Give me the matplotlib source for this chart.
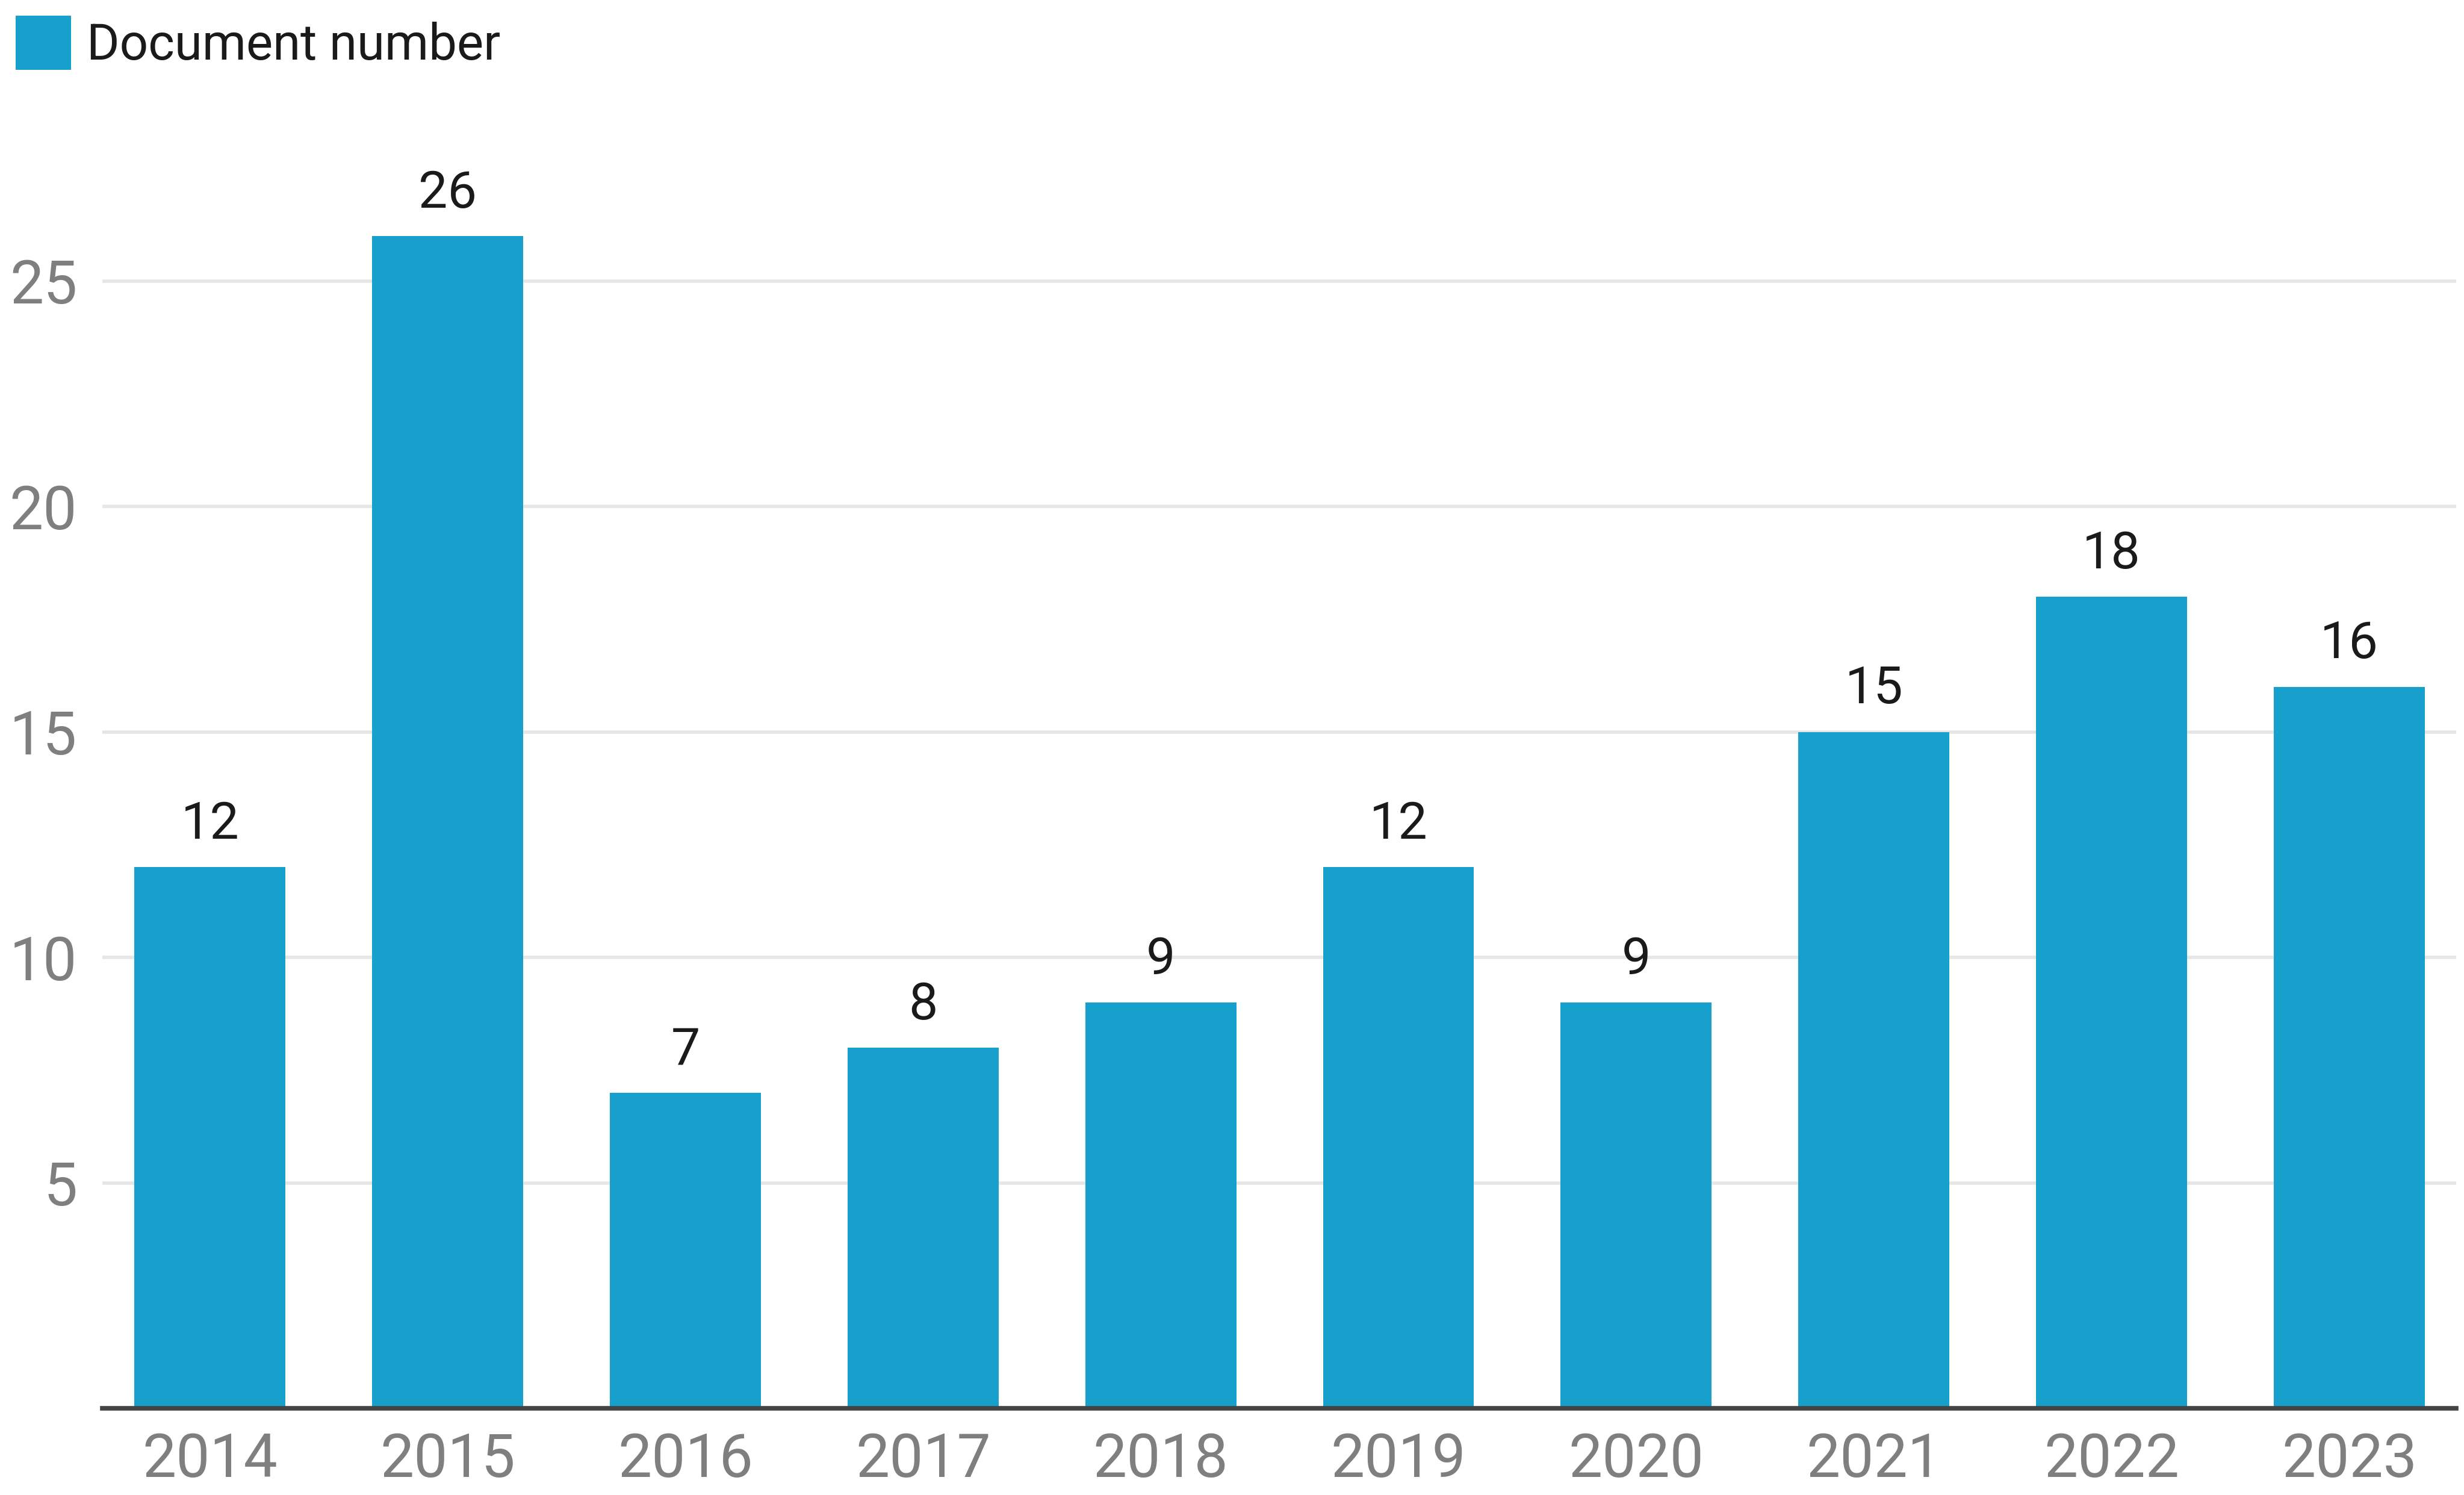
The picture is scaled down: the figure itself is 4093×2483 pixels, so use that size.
#!/usr/bin/env python3
"""Bar chart: document number per year."""

import matplotlib
matplotlib.use("Agg")
import matplotlib.pyplot as plt
from matplotlib.patches import Patch

years = ["2014", "2015", "2016", "2017", "2018", "2019", "2020", "2021", "2022", "2023"]
doc_counts = [12, 26, 7, 8, 9, 12, 9, 15, 18, 16]
y_ticks = [5, 10, 15, 20, 25]
series_name = "Document number"

BAR_COLOR = "#17a0cc"

plt.rcParams["font.family"] = ["Roboto", "DejaVu Sans"]

W, H, DPI = 4093, 2483, 100
fig = plt.figure(figsize=(W / DPI, H / DPI), dpi=DPI)

# axes placed in pixel terms: left 170, right 4080, baseline 2339, top 242
ax = fig.add_axes([170 / W, (H - 2339) / H, (4080 - 170) / W, (2339 - 242) / H])

x = range(len(years))
bars = ax.bar(x, doc_counts, width=0.635, color=BAR_COLOR, zorder=2)

for xi, v in zip(x, doc_counts):
    ax.annotate(str(v), (xi, v), xytext=(0, 34), textcoords="offset points",
                ha="center", va="baseline", fontsize=62, color="#1a1a1a")

ax.set_xlim(-0.453, 9.45)
ax.set_ylim(0, 28)
ax.set_xticks(list(x))
ax.set_xticklabels(years)
ax.set_yticks(y_ticks)
ax.set_yticklabels([str(t) for t in y_ticks])

ax.tick_params(axis="both", length=0, labelsize=72, colors="#7f7f7f")
ax.tick_params(axis="x", pad=28)
ax.tick_params(axis="y", pad=30)

ax.grid(axis="y", color="#e6e6e6", linewidth=4)
ax.set_axisbelow(True)

for side in ["top", "right", "left"]:
    ax.spines[side].set_visible(False)
ax.spines["bottom"].set_color("#444444")
ax.spines["bottom"].set_linewidth(5.5)
ax.spines["bottom"].set_zorder(3)

fig.legend(handles=[Patch(facecolor=BAR_COLOR, edgecolor="none", label=series_name)],
           loc="upper left", bbox_to_anchor=(26 / W, 1 - 26 / H), frameon=False,
           fontsize=60, handlelength=1.1, handleheight=1.28, handletextpad=0.32,
           borderpad=0, borderaxespad=0, labelcolor="#1a1a1a")

fig.savefig("out.png", dpi=DPI, facecolor="white")
